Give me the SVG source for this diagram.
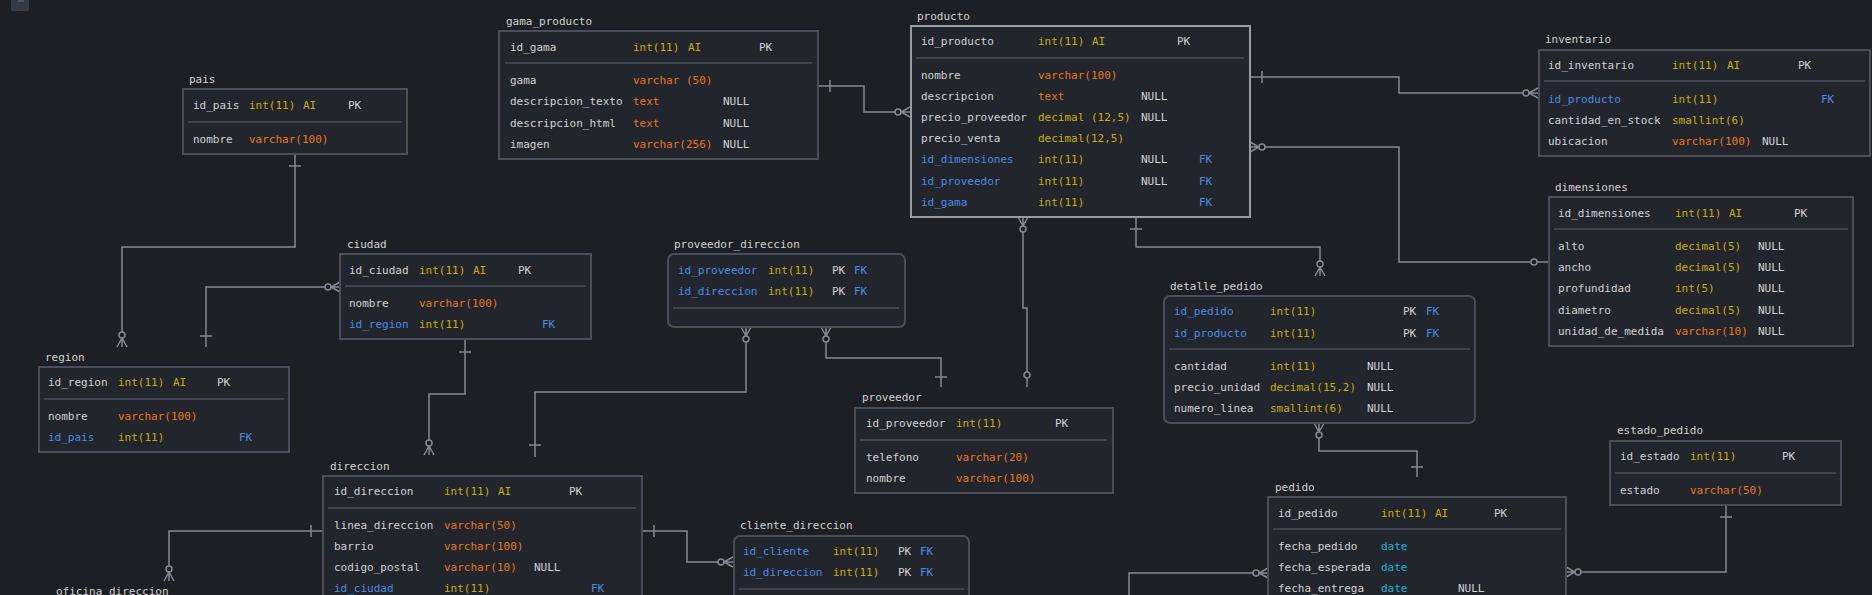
<svg xmlns="http://www.w3.org/2000/svg" width="1872" height="595" viewBox="0 0 1872 595">
<style>
text{font-family:"DejaVu Sans Mono","Liberation Mono",monospace;font-size:11px;fill:#d2d2d2}
.box{fill:#23252d;stroke:#4b4e59;stroke-width:2}
.sel{stroke:#9a9ca4}
.sep{stroke:#4b4e59;stroke-width:1.5}
.y{fill:#c9ad0c}
.o{fill:#e8781e}
.c{fill:#1fb3d6}
.b{fill:#4a8be4}
.ln{fill:none;stroke:#868993;stroke-width:1.5}
.ci{fill:#1e1f24;stroke:#868993;stroke-width:1.5}
</style>
<rect width="1872" height="595" fill="#1e1f24"/>
<rect x="11" y="-4" width="18" height="15" rx="2" fill="#353945"/>
<line x1="18" y1="1" x2="24" y2="1" stroke="#6a6f7c" stroke-width="1"/>

<g id="connectors">
<!-- pais - region -->
<path class="ln" d="M295,154 V247 H122 V347 M289,166 H301 M117,347 L122,338 L127,347"/>
<circle class="ci" cx="122" cy="335" r="3"/>
<!-- region - ciudad -->
<path class="ln" d="M340,287 H206 V347 M340,282 L331,287 L340,292 M200,336 H212"/>
<circle class="ci" cx="328" cy="287" r="3"/>
<!-- ciudad - direccion -->
<path class="ln" d="M465,339 V394 H429 V455 M459,352 H471 M424,455 L429,446 L434,455"/>
<circle class="ci" cx="429" cy="443" r="3"/>
<!-- gama_producto - producto -->
<path class="ln" d="M818,86 H864 V112 H910 M830,80 V92 M910,107 L901,112 L910,117"/>
<circle class="ci" cx="898" cy="112" r="3"/>
<!-- producto - inventario -->
<path class="ln" d="M1250,77 H1399 V93 H1538 M1262,71 V83 M1538,88 L1529,93 L1538,98"/>
<circle class="ci" cx="1526" cy="93" r="3"/>
<!-- producto - dimensiones -->
<path class="ln" d="M1250,147 H1399 V262 H1548 M1250,142 L1259,147 L1250,152"/>
<circle class="ci" cx="1262" cy="147" r="3"/>
<circle class="ci" cx="1534" cy="262" r="3"/>
<!-- producto - proveedor -->
<path class="ln" d="M1023,217 V308 H1027 V387 M1018,217 L1023,226 L1028,217"/>
<circle class="ci" cx="1023" cy="229" r="3"/>
<circle class="ci" cx="1027" cy="375" r="3"/>
<!-- producto - detalle_pedido -->
<path class="ln" d="M1136,217 V247 H1320 V276 M1130,229 H1142 M1315,276 L1320,267 L1325,276"/>
<circle class="ci" cx="1320" cy="264" r="3"/>
<!-- proveedor_direccion - direccion -->
<path class="ln" d="M746,327 V392 H535 V457 M741,327 L746,336 L751,327 M529,445 H541"/>
<circle class="ci" cx="746" cy="339" r="3"/>
<!-- proveedor_direccion - proveedor -->
<path class="ln" d="M826,327 V358 H941 V387 M821,327 L826,336 L831,327 M935,377 H947"/>
<circle class="ci" cx="826" cy="339" r="3"/>
<!-- direccion - oficina_direccion -->
<path class="ln" d="M323,531 H169 V581 M311,525 V537 M164,581 L169,572 L174,581"/>
<circle class="ci" cx="169" cy="569" r="3"/>
<!-- direccion - cliente_direccion -->
<path class="ln" d="M642,531 H687 V562 H733 M654,525 V537 M733,557 L724,562 L733,567"/>
<circle class="ci" cx="721" cy="562" r="3"/>
<!-- detalle_pedido - pedido -->
<path class="ln" d="M1319,423 V451 H1417 V477 M1314,423 L1319,432 L1324,423 M1411,467 H1423"/>
<circle class="ci" cx="1319" cy="435" r="3"/>
<!-- pedido - (below) -->
<path class="ln" d="M1268,573 H1129 V600 M1268,568 L1259,573 L1268,578"/>
<circle class="ci" cx="1256" cy="573" r="3"/>
<!-- estado_pedido - pedido -->
<path class="ln" d="M1726,505 V572 H1566 M1720,517 H1732 M1566,567 L1575,572 L1566,577"/>
<circle class="ci" cx="1578" cy="572" r="3"/>
</g>

<g id="pais">
<text x="189" y="83">pais</text>
<rect class="box" x="183" y="89" width="224" height="65"/>
<line class="sep" x1="188" y1="122" x2="402" y2="122"/>
<text x="193" y="109">id_pais</text><text class="y" x="249" y="109">int(11)</text><text class="y" x="303" y="109">AI</text><text x="348" y="109">PK</text>
<text x="193" y="143">nombre</text><text class="o" x="249" y="143">varchar(100)</text>
</g>

<g id="gama_producto">
<text x="506" y="25">gama_producto</text>
<rect class="box" x="499" y="31" width="319" height="128"/>
<line class="sep" x1="505" y1="63" x2="812" y2="63"/>
<text x="510" y="51">id_gama</text><text class="y" x="633" y="51">int(11)</text><text class="y" x="688" y="51">AI</text><text x="759" y="51">PK</text>
<text x="510" y="84">gama</text><text class="o" x="633" y="84">varchar (50)</text>
<text x="510" y="105">descripcion_texto</text><text class="o" x="633" y="105">text</text><text x="723" y="105">NULL</text>
<text x="510" y="127">descripcion_html</text><text class="o" x="633" y="127">text</text><text x="723" y="127">NULL</text>
<text x="510" y="148">imagen</text><text class="o" x="633" y="148">varchar(256)</text><text x="723" y="148">NULL</text>
</g>

<g id="producto">
<text x="917" y="20">producto</text>
<rect class="box sel" x="911" y="26" width="339" height="191"/>
<line class="sep" x1="916" y1="58" x2="1244" y2="58"/>
<text x="921" y="45">id_producto</text><text class="y" x="1038" y="45">int(11)</text><text class="y" x="1092" y="45">AI</text><text x="1177" y="45">PK</text>
<text x="921" y="79">nombre</text><text class="o" x="1038" y="79">varchar(100)</text>
<text x="921" y="100">descripcion</text><text class="o" x="1038" y="100">text</text><text x="1141" y="100">NULL</text>
<text x="921" y="121">precio_proveedor</text><text class="y" x="1038" y="121">decimal (12,5)</text><text x="1141" y="121">NULL</text>
<text x="921" y="142">precio_venta</text><text class="y" x="1038" y="142">decimal(12,5)</text>
<text class="b" x="921" y="163">id_dimensiones</text><text class="y" x="1038" y="163">int(11)</text><text x="1141" y="163">NULL</text><text class="b" x="1199" y="163">FK</text>
<text class="b" x="921" y="185">id_proveedor</text><text class="y" x="1038" y="185">int(11)</text><text x="1141" y="185">NULL</text><text class="b" x="1199" y="185">FK</text>
<text class="b" x="921" y="206">id_gama</text><text class="y" x="1038" y="206">int(11)</text><text class="b" x="1199" y="206">FK</text>
</g>

<g id="inventario">
<text x="1545" y="43">inventario</text>
<rect class="box" x="1539" y="50" width="331" height="106"/>
<line class="sep" x1="1544" y1="81" x2="1865" y2="81"/>
<text x="1548" y="69">id_inventario</text><text class="y" x="1672" y="69">int(11)</text><text class="y" x="1727" y="69">AI</text><text x="1798" y="69">PK</text>
<text class="b" x="1548" y="103">id_producto</text><text class="y" x="1672" y="103">int(11)</text><text class="b" x="1821" y="103">FK</text>
<text x="1548" y="124">cantidad_en_stock</text><text class="y" x="1672" y="124">smallint(6)</text>
<text x="1548" y="145">ubicacion</text><text class="o" x="1672" y="145">varchar(100)</text><text x="1762" y="145">NULL</text>
</g>

<g id="dimensiones">
<text x="1555" y="191">dimensiones</text>
<rect class="box" x="1549" y="197" width="304" height="149"/>
<line class="sep" x1="1554" y1="229" x2="1848" y2="229"/>
<text x="1558" y="217">id_dimensiones</text><text class="y" x="1675" y="217">int(11)</text><text class="y" x="1729" y="217">AI</text><text x="1794" y="217">PK</text>
<text x="1558" y="250">alto</text><text class="y" x="1675" y="250">decimal(5)</text><text x="1758" y="250">NULL</text>
<text x="1558" y="271">ancho</text><text class="y" x="1675" y="271">decimal(5)</text><text x="1758" y="271">NULL</text>
<text x="1558" y="292">profundidad</text><text class="y" x="1675" y="292">int(5)</text><text x="1758" y="292">NULL</text>
<text x="1558" y="314">diametro</text><text class="y" x="1675" y="314">decimal(5)</text><text x="1758" y="314">NULL</text>
<text x="1558" y="335">unidad_de_medida</text><text class="o" x="1675" y="335">varchar(10)</text><text x="1758" y="335">NULL</text>
</g>

<g id="ciudad">
<text x="347" y="248">ciudad</text>
<rect class="box" x="340" y="254" width="251" height="85"/>
<line class="sep" x1="345" y1="286" x2="586" y2="286"/>
<text x="349" y="274">id_ciudad</text><text class="y" x="419" y="274">int(11)</text><text class="y" x="473" y="274">AI</text><text x="518" y="274">PK</text>
<text x="349" y="307">nombre</text><text class="o" x="419" y="307">varchar(100)</text>
<text class="b" x="349" y="328">id_region</text><text class="y" x="419" y="328">int(11)</text><text class="b" x="542" y="328">FK</text>
</g>

<g id="proveedor_direccion">
<text x="674" y="248">proveedor_direccion</text>
<rect class="box" x="668" y="254" width="237" height="73" rx="6"/>
<line class="sep" x1="673" y1="308" x2="899" y2="308"/>
<text class="b" x="678" y="274">id_proveedor</text><text class="y" x="768" y="274">int(11)</text><text x="832" y="274">PK</text><text class="b" x="854" y="274">FK</text>
<text class="b" x="678" y="295">id_direccion</text><text class="y" x="768" y="295">int(11)</text><text x="832" y="295">PK</text><text class="b" x="854" y="295">FK</text>
</g>

<g id="region">
<text x="45" y="361">region</text>
<rect class="box" x="39" y="367" width="250" height="85"/>
<line class="sep" x1="44" y1="399" x2="284" y2="399"/>
<text x="48" y="386">id_region</text><text class="y" x="118" y="386">int(11)</text><text class="y" x="173" y="386">AI</text><text x="217" y="386">PK</text>
<text x="48" y="420">nombre</text><text class="o" x="118" y="420">varchar(100)</text>
<text class="b" x="48" y="441">id_pais</text><text class="y" x="118" y="441">int(11)</text><text class="b" x="239" y="441">FK</text>
</g>

<g id="proveedor">
<text x="862" y="401">proveedor</text>
<rect class="box" x="855" y="408" width="258" height="85"/>
<line class="sep" x1="860" y1="440" x2="1107" y2="440"/>
<text x="866" y="427">id_proveedor</text><text class="y" x="956" y="427">int(11)</text><text x="1055" y="427">PK</text>
<text x="866" y="461">telefono</text><text class="o" x="956" y="461">varchar(20)</text>
<text x="866" y="482">nombre</text><text class="o" x="956" y="482">varchar(100)</text>
</g>

<g id="detalle_pedido">
<text x="1170" y="290">detalle_pedido</text>
<rect class="box" x="1164" y="296" width="311" height="127" rx="6"/>
<line class="sep" x1="1169" y1="349" x2="1470" y2="349"/>
<text class="b" x="1174" y="315">id_pedido</text><text class="y" x="1270" y="315">int(11)</text><text x="1403" y="315">PK</text><text class="b" x="1426" y="315">FK</text>
<text class="b" x="1174" y="337">id_producto</text><text class="y" x="1270" y="337">int(11)</text><text x="1403" y="337">PK</text><text class="b" x="1426" y="337">FK</text>
<text x="1174" y="370">cantidad</text><text class="y" x="1270" y="370">int(11)</text><text x="1367" y="370">NULL</text>
<text x="1174" y="391">precio_unidad</text><text class="y" x="1270" y="391">decimal(15,2)</text><text x="1367" y="391">NULL</text>
<text x="1174" y="412">numero_linea</text><text class="y" x="1270" y="412">smallint(6)</text><text x="1367" y="412">NULL</text>
</g>

<g id="estado_pedido">
<text x="1617" y="434">estado_pedido</text>
<rect class="box" x="1610" y="441" width="231" height="64"/>
<line class="sep" x1="1615" y1="473" x2="1836" y2="473"/>
<text x="1620" y="460">id_estado</text><text class="y" x="1690" y="460">int(11)</text><text x="1782" y="460">PK</text>
<text x="1620" y="494">estado</text><text class="o" x="1690" y="494">varchar(50)</text>
</g>

<g id="direccion">
<text x="330" y="470">direccion</text>
<rect class="box" x="323" y="476" width="319" height="140"/>
<line class="sep" x1="328" y1="508" x2="636" y2="508"/>
<text x="334" y="495">id_direccion</text><text class="y" x="444" y="495">int(11)</text><text class="y" x="498" y="495">AI</text><text x="569" y="495">PK</text>
<text x="334" y="529">linea_direccion</text><text class="o" x="444" y="529">varchar(50)</text>
<text x="334" y="550">barrio</text><text class="o" x="444" y="550">varchar(100)</text>
<text x="334" y="571">codigo_postal</text><text class="o" x="444" y="571">varchar(10)</text><text x="534" y="571">NULL</text>
<text class="b" x="334" y="592">id_ciudad</text><text class="y" x="444" y="592">int(11)</text><text class="b" x="591" y="592">FK</text>
</g>

<g id="cliente_direccion">
<text x="740" y="529">cliente_direccion</text>
<rect class="box" x="734" y="536" width="235" height="80" rx="6"/>
<line class="sep" x1="739" y1="589" x2="964" y2="589"/>
<text class="b" x="743" y="555">id_cliente</text><text class="y" x="833" y="555">int(11)</text><text x="898" y="555">PK</text><text class="b" x="920" y="555">FK</text>
<text class="b" x="743" y="576">id_direccion</text><text class="y" x="833" y="576">int(11)</text><text x="898" y="576">PK</text><text class="b" x="920" y="576">FK</text>
</g>

<g id="pedido">
<text x="1275" y="491">pedido</text>
<rect class="box" x="1268" y="497" width="298" height="120"/>
<line class="sep" x1="1273" y1="529" x2="1561" y2="529"/>
<text x="1278" y="517">id_pedido</text><text class="y" x="1381" y="517">int(11)</text><text class="y" x="1435" y="517">AI</text><text x="1494" y="517">PK</text>
<text x="1278" y="550">fecha_pedido</text><text class="c" x="1381" y="550">date</text>
<text x="1278" y="571">fecha_esperada</text><text class="c" x="1381" y="571">date</text>
<text x="1278" y="592">fecha_entrega</text><text class="c" x="1381" y="592">date</text><text x="1458" y="592">NULL</text>
</g>

<g id="oficina_direccion">
<text x="56" y="595">oficina_direccion</text>
</g>
</svg>
